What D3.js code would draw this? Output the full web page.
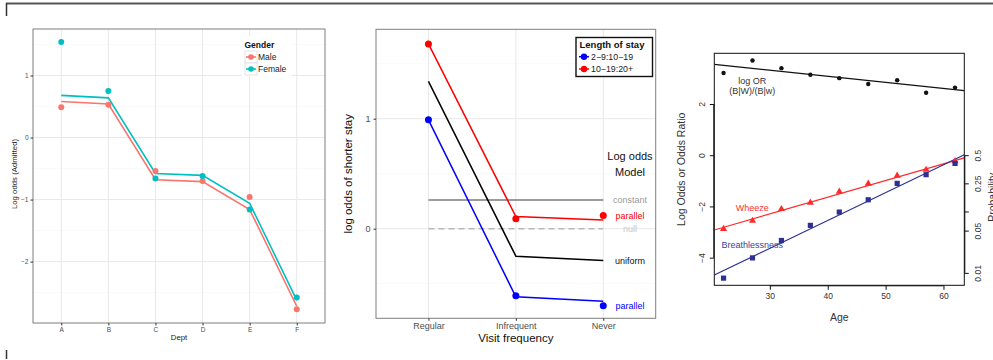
<!DOCTYPE html>
<html>
<head>
<meta charset="utf-8">
<script src="https://cdn.jsdelivr.net/npm/d3@7"></script>
<style>
  html, body { margin: 0; padding: 0; background: #fff; }
  svg { display: block; font-family: "Liberation Sans", Arial, Helvetica, sans-serif; }
</style>
</head>
<body>
<svg id="chart" width="993" height="360"></svg>
<script>
// ---------- Panel 1: UC Berkeley admissions, log odds by department ----------
const depts = ["A", "B", "C", "D", "E", "F"];
const maleObserved = [0.49, 0.53, -0.54, -0.70, -0.96, -2.77];
const femaleObserved = [1.54, 0.75, -0.66, -0.62, -1.16, -2.58];
const maleFitted = [0.58, 0.54, -0.68, -0.71, -1.16, -2.72];
const femaleFitted = [0.68, 0.64, -0.58, -0.61, -1.06, -2.62];
const genderLabels = ["Male", "Female"];
const admitTicks = [-2, -1, 0, 1];

// ---------- Panel 2: length of stay by visit frequency ----------
const visitLevels = ["Regular", "Infrequent", "Never"];
const stayLabels = ["2\u22129:10\u221219", "10\u221219:20+"];
const observedShort = [0.99, -0.61, -0.70];
const observedLong = [1.68, 0.09, 0.12];
const parallelShort = [0.99, -0.62, -0.66];
const parallelLong = [1.68, 0.11, 0.08];
const uniformFit = [1.34, -0.25, -0.29];
const constantFit = [0.26, 0.26, 0.26];
const nullFit = [0, 0, 0];
const stayTicks = [0, 1];

// ---------- Panel 3: coal miners, breathlessness and wheeze by age ----------
const ages = [22, 27, 32, 37, 42, 47, 52, 57, 62];
const logOddsRatio = [3.21, 3.70, 3.40, 3.14, 3.01, 2.78, 2.93, 2.44, 2.64];
const logitWheeze = [-2.88, -2.56, -2.10, -1.85, -1.42, -1.11, -0.80, -0.57, -0.23];
const logitBreath = [-4.80, -4.01, -3.33, -2.74, -2.22, -1.74, -1.10, -0.76, -0.32];
// fitted straight lines: [intercept, slope] in age
const fitOR = [4.03, -0.0237];
const fitWheeze = [-4.25, 0.0652];
const fitBreath = [-6.90, 0.1088];
const ageTicks = [30, 40, 50, 60];
const logitTicks = [-4, -2, 0, 2];
const probTicks = [0.01, 0.05, 0.1, 0.25, 0.5];
const probTickLabels = ["0.01", "0.05", "", "0.25", "0.5"];

const svg = d3.select("#chart");

// outer frame strokes
svg.append("line").attr("x1", 6).attr("x2", 993).attr("y1", 3.5).attr("y2", 3.5)
  .attr("stroke", "#555").attr("stroke-width", 2);
svg.append("line").attr("x1", 6.5).attr("x2", 6.5).attr("y1", 3).attr("y2", 16)
  .attr("stroke", "#333").attr("stroke-width", 1.5);
svg.append("line").attr("x1", 6.5).attr("x2", 6.5).attr("y1", 350).attr("y2", 359)
  .attr("stroke", "#333").attr("stroke-width", 1.5);

const minusFmt = d => d < 0 ? "\u2212" + Math.abs(d) : String(d);

// ================= Panel 1 =================
(function () {
  const L = 33, R = 325, T = 29, B = 323;
  const x = d3.scalePoint().domain(depts).range([L, R]).padding(0.6);
  const y = d3.scaleLinear().domain([-2.99, 1.75]).range([B, T]);
  const g = svg.append("g");
  const male = "#F8766D", female = "#00BFC4";

  // minor grid
  [-2.5, -1.5, -0.5, 0.5, 1.5].forEach(v => g.append("line")
    .attr("x1", L).attr("x2", R).attr("y1", y(v)).attr("y2", y(v))
    .attr("stroke", "#f5f5f5").attr("stroke-width", 0.6));
  // major grid
  admitTicks.forEach(v => g.append("line")
    .attr("x1", L).attr("x2", R).attr("y1", y(v)).attr("y2", y(v))
    .attr("stroke", "#e8e8e8").attr("stroke-width", 1));
  depts.forEach(d => g.append("line")
    .attr("x1", x(d)).attr("x2", x(d)).attr("y1", T).attr("y2", B)
    .attr("stroke", "#e8e8e8").attr("stroke-width", 1));

  const line = d3.line().x((d, i) => x(depts[i])).y(d => y(d));
  g.append("path").attr("d", line(maleFitted)).attr("fill", "none")
    .attr("stroke", male).attr("stroke-width", 1.6);
  g.append("path").attr("d", line(femaleFitted)).attr("fill", "none")
    .attr("stroke", female).attr("stroke-width", 1.6);
  maleObserved.forEach((v, i) => g.append("circle").attr("cx", x(depts[i])).attr("cy", y(v))
    .attr("r", 3).attr("fill", male));
  femaleObserved.forEach((v, i) => g.append("circle").attr("cx", x(depts[i])).attr("cy", y(v))
    .attr("r", 3).attr("fill", female));

  // border
  g.append("rect").attr("x", L).attr("y", T).attr("width", R - L).attr("height", B - T)
    .attr("fill", "none").attr("stroke", "#7f7f7f").attr("stroke-width", 1);

  // axes
  const ya = g.append("g").attr("transform", `translate(${L},0)`)
    .call(d3.axisLeft(y).tickValues(admitTicks).tickSize(2.5).tickPadding(2).tickFormat(minusFmt));
  const xa = g.append("g").attr("transform", `translate(0,${B})`)
    .call(d3.axisBottom(x).tickSize(2.5).tickPadding(2));
  [ya, xa].forEach(a => {
    a.select(".domain").remove();
    a.selectAll(".tick line").attr("stroke", "#333");
    a.selectAll("text").attr("fill", "#4d4d4d").style("font-size", "6.5px")
      .style("font-family", "Liberation Sans, Arial, sans-serif");
  });

  g.append("text").attr("transform", `translate(16.5,${(T + B) / 2 - 2}) rotate(-90)`)
    .attr("text-anchor", "middle").style("font-size", "7.8px").attr("fill", "#222")
    .text("Log odds (Admitted)");
  g.append("text").attr("x", (L + R) / 2).attr("y", 340)
    .attr("text-anchor", "middle").style("font-size", "7.8px").attr("fill", "#222").text("Dept");

  // legend
  const lg = g.append("g");
  lg.append("rect").attr("x", 242).attr("y", 36).attr("width", 50).attr("height", 40).attr("fill", "#fff");
  lg.append("text").attr("x", 244.5).attr("y", 47.5).style("font-size", "8.5px")
    .style("font-weight", "bold").attr("fill", "#111").text("Gender");
  [male, female].forEach((c, i) => {
    const cy = 57 + i * 12;
    lg.append("rect").attr("x", 245).attr("y", cy - 6).attr("width", 12).attr("height", 12)
      .attr("fill", "#fff").attr("stroke", "#d0d0d0").attr("stroke-width", 0.6);
    lg.append("line").attr("x1", 246).attr("x2", 256).attr("y1", cy).attr("y2", cy)
      .attr("stroke", c).attr("stroke-width", 1.6);
    lg.append("circle").attr("cx", 251).attr("cy", cy).attr("r", 2.8).attr("fill", c);
    lg.append("text").attr("x", 258).attr("y", cy + 3).style("font-size", "8.5px")
      .attr("fill", "#222").text(genderLabels[i]);
  });
})();

// ================= Panel 2 =================
(function () {
  const L = 376, R = 655.7, T = 29.3, B = 318.3;
  const x = d3.scalePoint().domain(visitLevels).range([L, R]).padding(0.6);
  const y = d3.scaleLinear().domain([-0.815, 1.813]).range([B, T]);
  const g = svg.append("g");
  const red = "#ff0000", blue = "#0000ff";

  [-0.5, 0.5, 1.5].forEach(v => g.append("line")
    .attr("x1", L).attr("x2", R).attr("y1", y(v)).attr("y2", y(v))
    .attr("stroke", "#f5f5f5").attr("stroke-width", 0.6));
  stayTicks.forEach(v => g.append("line")
    .attr("x1", L).attr("x2", R).attr("y1", y(v)).attr("y2", y(v))
    .attr("stroke", "#e8e8e8").attr("stroke-width", 1));
  visitLevels.forEach(d => g.append("line")
    .attr("x1", x(d)).attr("x2", x(d)).attr("y1", T).attr("y2", B)
    .attr("stroke", "#e8e8e8").attr("stroke-width", 1));

  const line = d3.line().x((d, i) => x(visitLevels[i])).y(d => y(d));
  g.append("path").attr("d", line(nullFit)).attr("fill", "none")
    .attr("stroke", "#b8b8b8").attr("stroke-width", 1.5).attr("stroke-dasharray", "6,4");
  g.append("path").attr("d", line(constantFit)).attr("fill", "none")
    .attr("stroke", "#7a7a7a").attr("stroke-width", 1.5);
  g.append("path").attr("d", line(uniformFit)).attr("fill", "none")
    .attr("stroke", "#000").attr("stroke-width", 1.5);
  g.append("path").attr("d", line(parallelLong)).attr("fill", "none")
    .attr("stroke", red).attr("stroke-width", 1.5);
  g.append("path").attr("d", line(parallelShort)).attr("fill", "none")
    .attr("stroke", blue).attr("stroke-width", 1.5);
  observedShort.forEach((v, i) => g.append("circle").attr("cx", x(visitLevels[i])).attr("cy", y(v))
    .attr("r", 3.5).attr("fill", blue));
  observedLong.forEach((v, i) => g.append("circle").attr("cx", x(visitLevels[i])).attr("cy", y(v))
    .attr("r", 3.5).attr("fill", red));

  g.append("rect").attr("x", L).attr("y", T).attr("width", R - L).attr("height", B - T)
    .attr("fill", "none").attr("stroke", "#7f7f7f").attr("stroke-width", 1);

  const ya = g.append("g").attr("transform", `translate(${L},0)`)
    .call(d3.axisLeft(y).tickValues(stayTicks).tickSize(2.5).tickPadding(3).tickFormat(minusFmt));
  const xa = g.append("g").attr("transform", `translate(0,${B})`)
    .call(d3.axisBottom(x).tickSize(2.5).tickPadding(2));
  [ya, xa].forEach(a => {
    a.select(".domain").remove();
    a.selectAll(".tick line").attr("stroke", "#333");
    a.selectAll("text").attr("fill", "#4d4d4d").style("font-size", "9px")
      .style("font-family", "Liberation Sans, Arial, sans-serif");
  });

  g.append("text").attr("transform", `translate(352,${(T + B) / 2}) rotate(-90)`)
    .attr("text-anchor", "middle").style("font-size", "11.5px").attr("fill", "#111")
    .text("log odds of shorter stay");
  g.append("text").attr("x", (L + R) / 2).attr("y", 341.5)
    .attr("text-anchor", "middle").style("font-size", "11.5px").attr("fill", "#111")
    .text("Visit frequency");

  // model labels beside the lines
  const lx = 630;
  const modelText = (txt, v, c) => g.append("text").attr("x", lx).attr("y", y(v) + 3.2)
    .attr("text-anchor", "middle").style("font-size", "9px").attr("fill", c).text(txt);
  g.append("text").attr("x", lx).attr("y", 159.5).attr("text-anchor", "middle")
    .style("font-size", "11px").attr("fill", "#111").text("Log odds");
  g.append("text").attr("x", lx).attr("y", 175.5).attr("text-anchor", "middle")
    .style("font-size", "11px").attr("fill", "#111").text("Model");
  modelText("constant", constantFit[2], "#9a9a9a");
  modelText("parallel", 0.115, red);
  modelText("null", nullFit[2], "#c8c8c8");
  modelText("uniform", uniformFit[2], "#111");
  modelText("parallel", -0.70, blue);

  // legend
  const lg = g.append("g");
  lg.append("rect").attr("x", 576).attr("y", 37.5).attr("width", 76.5).attr("height", 39)
    .attr("fill", "#fff").attr("stroke", "#111").attr("stroke-width", 1.4);
  lg.append("text").attr("x", 579.5).attr("y", 48).style("font-size", "9.5px")
    .style("font-weight", "bold").attr("fill", "#111").text("Length of stay");
  [blue, red].forEach((c, i) => {
    const cy = 56.7 + i * 12.3;
    lg.append("line").attr("x1", 579).attr("x2", 589).attr("y1", cy).attr("y2", cy)
      .attr("stroke", c).attr("stroke-width", 1.5);
    lg.append("circle").attr("cx", 584).attr("cy", cy).attr("r", 3.2).attr("fill", c);
    lg.append("text").attr("x", 591).attr("y", cy + 3.2).style("font-size", "8.8px")
      .attr("fill", "#222").text(stayLabels[i]);
  });
})();

// ================= Panel 3 =================
(function () {
  const L = 714.3, R = 964.3, T = 53.3, B = 285.3;
  const x = d3.scaleLinear().domain([20.4, 63.6]).range([L, R]);
  const y = d3.scaleLinear().domain([-5.08, 3.98]).range([B, T]);
  const g = svg.append("g");
  const red = "#ff2a2a", navy = "#2e3192";
  const logit = p => Math.log(p / (1 - p));

  const clip = g.append("clipPath").attr("id", "p3clip");
  clip.append("rect").attr("x", L).attr("y", T).attr("width", R - L).attr("height", B - T);
  const pg = g.append("g").attr("clip-path", "url(#p3clip)");

  const fitLine = (coef, c) => pg.append("line")
    .attr("x1", x(20.4)).attr("y1", y(coef[0] + coef[1] * 20.4))
    .attr("x2", x(63.6)).attr("y2", y(coef[0] + coef[1] * 63.6))
    .attr("stroke", c).attr("stroke-width", 1.2);
  fitLine(fitOR, "#111");
  fitLine(fitWheeze, red);
  fitLine(fitBreath, navy);

  logOddsRatio.forEach((v, i) => g.append("circle").attr("cx", x(ages[i])).attr("cy", y(v))
    .attr("r", 2.2).attr("fill", "#111"));
  const tri = d3.symbol().type(d3.symbolTriangle).size(22);
  logitWheeze.forEach((v, i) => g.append("path").attr("d", tri())
    .attr("transform", `translate(${x(ages[i])},${y(v)})`).attr("fill", red));
  logitBreath.forEach((v, i) => g.append("rect")
    .attr("x", x(ages[i]) - 2.6).attr("y", y(v) - 2.6).attr("width", 5.2).attr("height", 5.2)
    .attr("fill", navy));

  g.append("rect").attr("x", L).attr("y", T).attr("width", R - L).attr("height", B - T)
    .attr("fill", "none").attr("stroke", "#111").attr("stroke-width", 1);

  // left axis
  const ya = g.append("g").attr("transform", `translate(${L},0)`)
    .call(d3.axisLeft(y).tickValues(logitTicks).tickSize(4.5).tickPadding(3).tickFormat(minusFmt));
  ya.select(".domain").attr("d", `M-0.5,${y(-4)}V${y(2)}`).attr("stroke", "#111");
  ya.selectAll("text").attr("transform", "rotate(-90)").attr("text-anchor", "middle")
    .attr("x", 0).attr("dy", 0).attr("y", -9.5);
  // bottom axis
  const xa = g.append("g").attr("transform", `translate(0,${B})`)
    .call(d3.axisBottom(x).tickValues(ageTicks).tickSize(4.5).tickPadding(3));
  xa.select(".domain").attr("d", `M${x(30)},0.5H${x(60)}`).attr("stroke", "#111");
  // right probability axis
  const ra = g.append("g").attr("transform", `translate(${R},0)`)
    .call(d3.axisRight(y).tickValues(probTicks.map(logit)).tickSize(4.5).tickPadding(3)
      .tickFormat((d, i) => probTickLabels[i]));
  ra.select(".domain").attr("d", `M0.5,${y(logit(0.01))}V${y(logit(0.5))}`).attr("stroke", "#111");
  ra.selectAll("text").attr("transform", "rotate(-90)").attr("text-anchor", "middle")
    .attr("x", 0).attr("dy", 0).attr("y", 17);
  [ya, xa, ra].forEach(a => {
    a.selectAll(".tick line").attr("stroke", "#111");
    a.selectAll("text").attr("fill", "#333").style("font-size", "8.5px")
      .style("font-family", "Liberation Sans, Arial, sans-serif");
  });

  g.append("text").attr("transform", `translate(684.5,${(T + B) / 2}) rotate(-90)`)
    .attr("text-anchor", "middle").style("font-size", "10.5px").attr("fill", "#333")
    .text("Log Odds or Odds Ratio");
  g.append("text").attr("transform", `translate(996,${(T + B) / 2 + 28}) rotate(-90)`)
    .attr("text-anchor", "middle").style("font-size", "10.5px").attr("fill", "#333")
    .text("Probability");
  g.append("text").attr("x", (L + R) / 2).attr("y", 321)
    .attr("text-anchor", "middle").style("font-size", "10.5px").attr("fill", "#333").text("Age");

  // series annotations
  const note = (txt, px, py, c) => g.append("text").attr("x", px).attr("y", py)
    .attr("text-anchor", "middle").style("font-size", "9px").attr("fill", c).text(txt);
  note("log OR", 752.3, 83.5, "#333");
  note("(B|W)/(B|w)", 752.3, 94, "#333");
  note("Wheeze", 752.3, 211, "#ff3030");
  note("Breathlessness", 752.3, 248, "#3b3f9e");
})();
</script>
</body>
</html>
